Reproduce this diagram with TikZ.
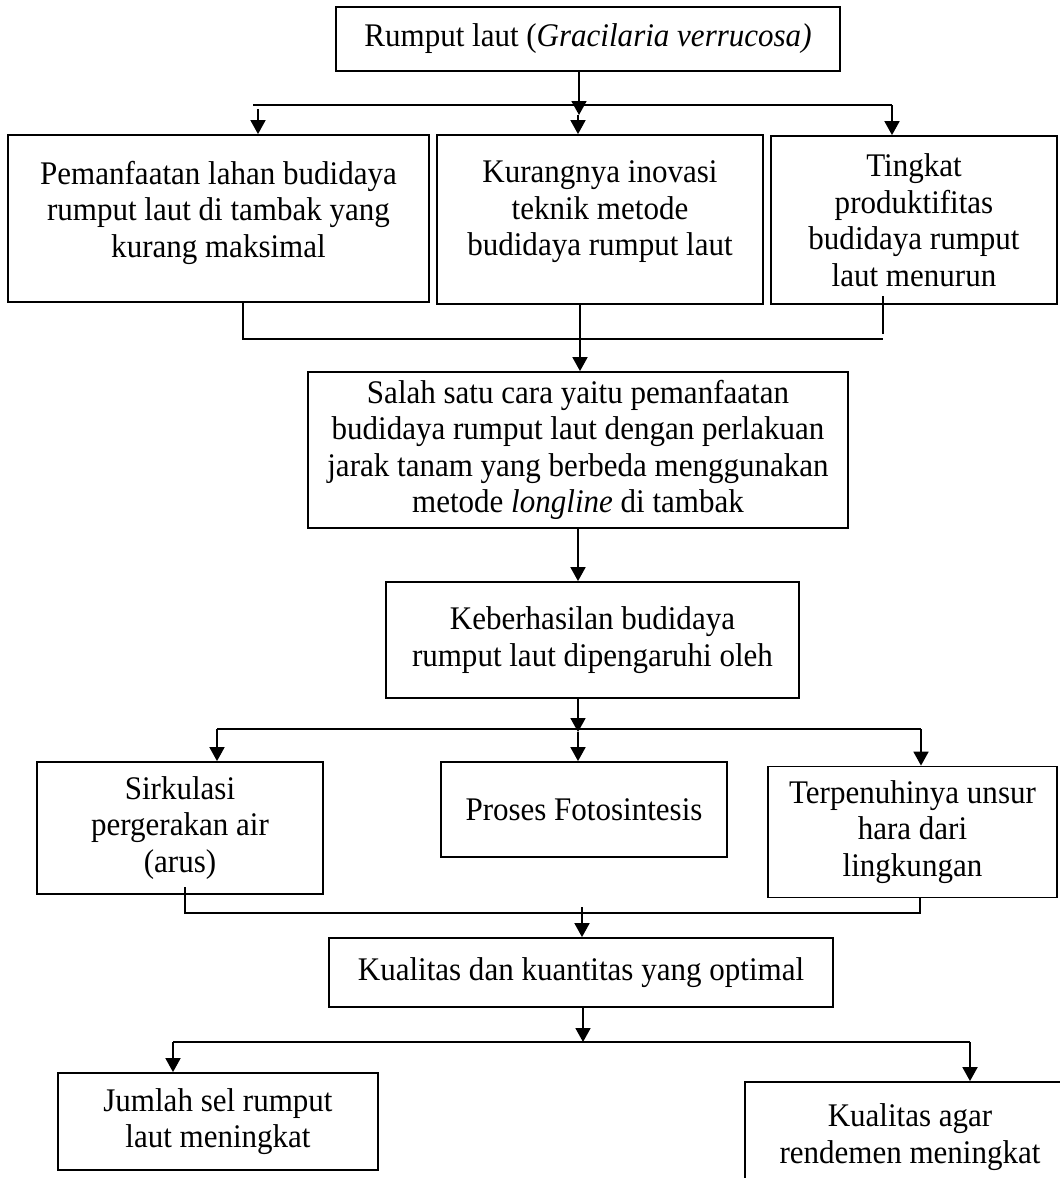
\documentclass[tikz,border=0pt]{standalone}
\usepackage{fontspec}
\setmainfont{Liberation Serif}[FakeStretch=0.94]
\usetikzlibrary{arrows.meta}
\newcommand{\boxfont}{\fontsize{33}{36.5}\selectfont}
\begin{document}
\begin{tikzpicture}[x=1pt, y=-1pt, line width=1.8pt,
    box/.style={draw, align=center, font=\boxfont, inner sep=0pt},
    toptext/.style={anchor=north, align=center, font=\boxfont, inner sep=0pt, yshift=-26pt},
    arr/.style={-{Triangle[width=15pt,length=14pt]}}]
  \useasboundingbox (0,0) rectangle (1060,1178);

  % boxes
  \node[box, minimum width=504pt, minimum height=64pt] (top) at (588,39)
    {Rumput laut (\textit{Gracilaria verrucosa)}};
  \node[box, minimum width=421pt, minimum height=167pt,
    label={[toptext]north:Pemanfaatan lahan budidaya\\rumput laut di tambak yang\\kurang maksimal}]
    (b1) at (218.5,218.5) {};
  \node[box, minimum width=326pt, minimum height=169pt,
    label={[toptext]north:Kurangnya inovasi\\teknik metode\\budidaya rumput laut}]
    (b2) at (600,219.5) {};
  \node[box, minimum width=286pt, minimum height=168pt] (b3) at (914,220)
    {Tingkat\\produktifitas\\budidaya rumput\\laut menurun};
  \node[box, minimum width=540pt, minimum height=156pt] (b4) at (578,450)
    {Salah satu cara yaitu pemanfaatan\\budidaya rumput laut dengan perlakuan\\jarak tanam yang berbeda menggunakan\\metode \textit{longline} di tambak};
  \node[box, minimum width=413pt, minimum height=116pt] (b5) at (592.5,640)
    {Keberhasilan budidaya\\rumput laut dipengaruhi oleh};
  \node[box, minimum width=286pt, minimum height=132pt] (b6) at (180,828)
    {Sirkulasi\\pergerakan air\\(arus)};
  \node[box, minimum width=286pt, minimum height=95pt] (b7) at (584,809.5)
    {Proses Fotosintesis};
  \node[box, minimum width=289pt, minimum height=131pt] (b8) at (912.5,832)
    {Terpenuhinya unsur\\hara dari\\lingkungan};
  \node[box, minimum width=504pt, minimum height=69pt] (b9) at (581,972.5)
    {Kualitas dan kuantitas yang optimal};
  \node[box, minimum width=320pt, minimum height=97pt] (b10) at (218,1121.5)
    {Jumlah sel rumput\\laut meningkat};
  \node[box, minimum width=330pt, minimum height=110pt] (b11) at (910,1137)
    {Kualitas agar\\rendemen meningkat};

  % top branch
  \coordinate (t1) at (579,115);
  \coordinate (s1l) at (253,105);
  \coordinate (s1r) at (892,105);
  \coordinate (d1) at (258,109);
  \coordinate (d2) at (578,115);
  \draw[arr] (top.south -| t1) -- (t1);
  \draw (s1l) -- (s1r);
  \draw[arr] (d1) -- (d1 |- b1.north);
  \draw[arr] (d2) -- (d2 |- b2.north);
  \draw[arr] (s1r) -- (s1r |- b3.north);

  % join below row 2
  \coordinate (m1) at (243,339);
  \coordinate (m2) at (580,339);
  \coordinate (m3) at (883,334);
  \draw (b1.south -| m1) -- (m1) -- (m1 -| m3);
  \draw (b2.south -| m2) -- (m2);
  \draw (m3 |- 0,296) -- (m3);
  \draw[arr] (m2) -- (m2 |- b4.north);
  \draw[arr] (b4.south) -- (b4.south |- b5.north);

  % branch to the three factors
  \coordinate (k2) at (578,732);
  \coordinate (k1) at (217,729);
  \coordinate (k3) at (921,729);
  \draw[arr] (b5.south -| k2) -- (k2);
  \draw (k1) -- (k3);
  \draw[arr] (k1) -- (k1 |- b6.north);
  \draw[arr] (k2) -- (k2 |- b7.north);
  \draw[arr] (k3) -- (k3 |- b8.north);

  % join below the factors
  \coordinate (n1) at (185,913);
  \coordinate (n2) at (582,907);
  \coordinate (n3) at (920,913);
  \draw (n1 |- 0,887) -- (n1) -- (n3) -- (n3 |- b8.south);
  \draw[arr] (n2) -- (n2 |- b9.north);

  % last branch
  \coordinate (p2) at (583,1042);
  \coordinate (p1) at (173,1042);
  \coordinate (p3) at (970,1042);
  \draw[arr] (b9.south -| p2) -- (p2);
  \draw (p1) -- (p3);
  \draw[arr] (p1) -- (p1 |- b10.north);
  \draw[arr] (p3) -- (p3 |- b11.north);
\end{tikzpicture}
\end{document}
